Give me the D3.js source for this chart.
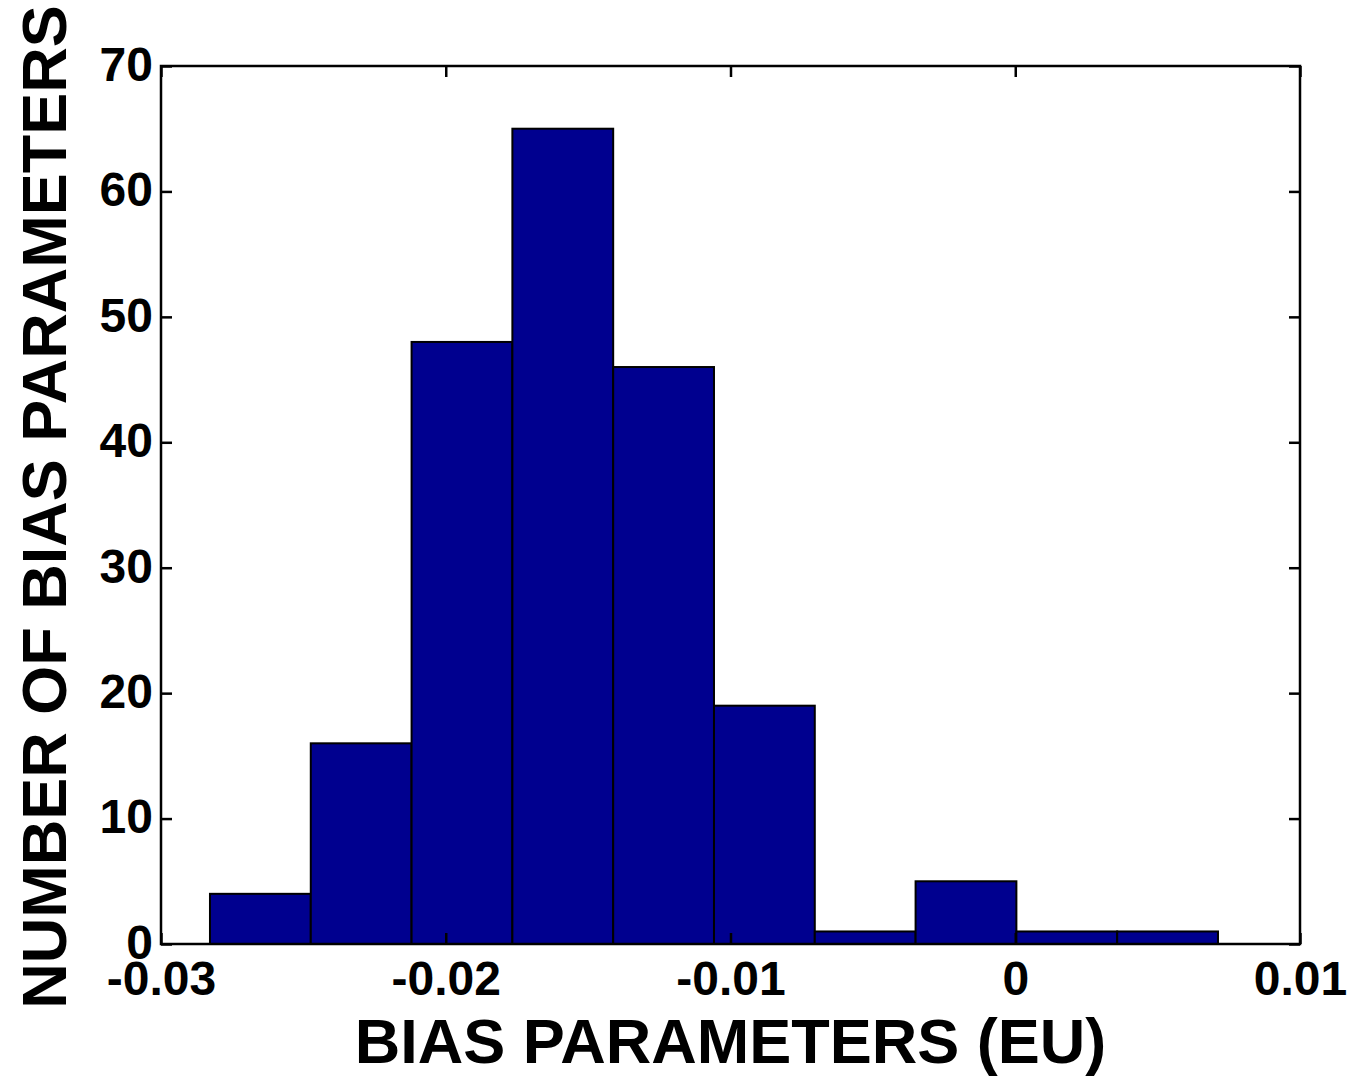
<!DOCTYPE html>
<html>
<head>
<meta charset="utf-8">
<script src="https://cdn.jsdelivr.net/npm/d3@7"></script>
<style>
  body { margin: 0; background: #fff; }
  svg { display: block; }
  text { font-family: "Liberation Sans", Arial, Helvetica, sans-serif; font-weight: bold; fill: #000; }
</style>
</head>
<body>
<svg width="1352" height="1076"></svg>
<script>
// histogram bin edges (EU) and counts per bin
const binEdges = [-0.02828, -0.02474, -0.0212, -0.01766, -0.01412, -0.01058, -0.00704, -0.0035, 0.00004, 0.00358, 0.00712];
const counts = [4, 16, 48, 65, 46, 19, 1, 5, 1, 1];
const xTicks = [-0.03, -0.02, -0.01, 0, 0.01];
const xTickLabels = ["-0.03", "-0.02", "-0.01", "0", "0.01"];
const yTicks = [0, 10, 20, 30, 40, 50, 60, 70];

var svg = d3.select("svg"),
  margin = {top: 66, right: 52, bottom: 132, left: 161},
  width = +svg.attr("width"),
  height = +svg.attr("height"),
  plotW = width - margin.left - margin.right,
  plotH = height - margin.top - margin.bottom,
  g = svg.append("g").attr("transform", "translate(" + margin.left + "," + margin.top + ")");

var x = d3.scaleLinear().domain([-0.03, 0.01]).range([0, plotW]);
var y = d3.scaleLinear().domain([0, 70]).range([plotH, 0]);

var bins = counts.map(function(c, i) { return {x0: binEdges[i], x1: binEdges[i + 1], n: c}; });

// bars
g.selectAll("rect.bar")
  .data(bins)
  .enter().append("rect")
  .attr("class", "bar")
  .attr("x", function(d) { return x(d.x0); })
  .attr("width", function(d) { return x(d.x1) - x(d.x0); })
  .attr("y", function(d) { return y(d.n); })
  .attr("height", function(d) { return y(0) - y(d.n); })
  .attr("fill", "#00008f")
  .attr("stroke", "#000")
  .attr("stroke-width", 2);

var tickLen = 11;

// bottom axis (labels + inward ticks)
var xAxis = d3.axisBottom(x).tickValues(xTicks)
  .tickFormat(function(d, i) { return xTickLabels[i]; })
  .tickSizeInner(-tickLen).tickSizeOuter(0).tickPadding(17);
var gx = g.append("g").attr("transform", "translate(0," + plotH + ")").call(xAxis);
gx.select(".domain").remove();
gx.selectAll("text").style("font-size", "48px").attr("dy", "0.71em");

// top ticks
var gxt = g.append("g").call(d3.axisTop(x).tickValues(xTicks).tickFormat("").tickSizeInner(-tickLen).tickSizeOuter(0));
gxt.select(".domain").remove();

// left axis
var yAxis = d3.axisLeft(y).tickValues(yTicks).tickSizeInner(-tickLen).tickSizeOuter(0).tickPadding(8);
var gy = g.append("g").call(yAxis);
gy.select(".domain").remove();
gy.selectAll("text").style("font-size", "48px").attr("dy", "0.3em");

// right ticks
var gyr = g.append("g").attr("transform", "translate(" + plotW + ",0)")
  .call(d3.axisRight(y).tickValues(yTicks).tickFormat("").tickSizeInner(-tickLen).tickSizeOuter(0));
gyr.select(".domain").remove();

svg.selectAll(".tick line").attr("stroke", "#000").attr("stroke-width", 2.5);

// box
g.append("rect")
  .attr("width", plotW).attr("height", plotH)
  .attr("fill", "none").attr("stroke", "#000").attr("stroke-width", 2.5);

// axis titles
svg.append("text")
  .attr("x", margin.left + plotW / 2)
  .attr("y", 1063)
  .attr("text-anchor", "middle")
  .style("font-size", "63px")
  .text("BIAS PARAMETERS (EU)");

svg.append("text")
  .attr("transform", "translate(66," + (margin.top + plotH / 2 + 2) + ") rotate(-90)")
  .attr("text-anchor", "middle")
  .style("font-size", "63px")
  .text("NUMBER OF BIAS PARAMETERS");
</script>
</body>
</html>
